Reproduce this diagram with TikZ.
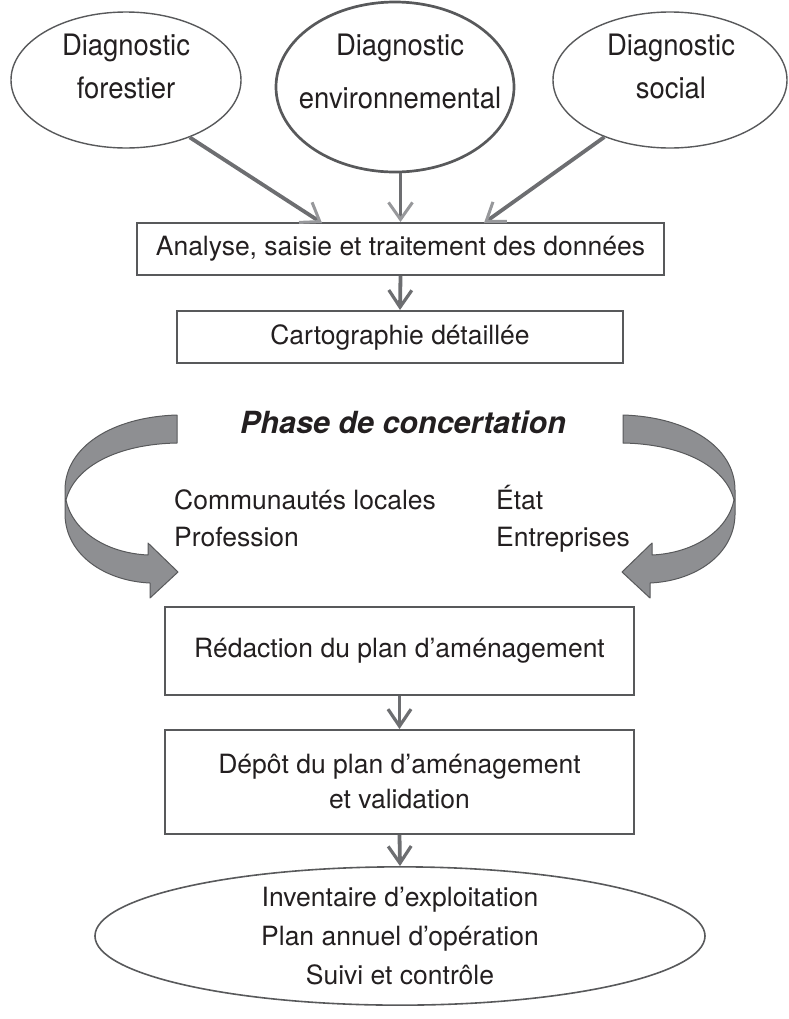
\documentclass[tikz,border=0pt]{standalone}
\usepackage{fontspec}
\setmainfont{TeX Gyre Heros}
\newfontfamily\condfont[FakeStretch=0.93]{TeX Gyre Heros}
\usetikzlibrary{arrows.meta,shapes.geometric,calc}
\definecolor{linegray}{HTML}{58595B}
\definecolor{shaftgray}{HTML}{6D6E71}
\definecolor{headgray}{HTML}{97989B}
\definecolor{bandfill}{HTML}{8E8F92}
\definecolor{txt}{HTML}{231F20}
\begin{document}
\begin{tikzpicture}[x=1bp,y=-1bp,
  every node/.style={text=txt, inner sep=0pt},
  bodyfont/.style={font=\fontsize{26.5bp}{35bp}\selectfont},
  diagfont/.style={font=\condfont\fontsize{29.5bp}{35bp}\selectfont},
  diagell/.style={ellipse, draw=linegray, line width=1.4bp},
  stepbox/.style={rectangle, draw=linegray, line width=2bp, bodyfont, align=center},
  inarrow/.style={draw=shaftgray, line width=3.8bp,
     -{Straight Barb[length=17bp, width=24bp, line width=3bp, color=headgray]}},
  flowarrow/.style={draw=shaftgray, line width=3.8bp,
     -{Straight Barb[length=17bp, width=23bp, line width=3.2bp]}},
  band/.style={fill=bandfill, draw=linegray, line width=1bp, line join=round}
]
\useasboundingbox (0,0) rectangle (789,1019);

% top ellipses
\node[diagell, minimum width=230bp, minimum height=136bp] (e1) at (126,80) {};
\node[diagell, line width=2.7bp, minimum width=238bp, minimum height=170bp] (e2) at (395,87) {};
\node[diagell, minimum width=234bp, minimum height=136bp] (e3) at (670,80) {};

\node[diagfont, anchor=base] (e1a) at (126,55) {Diagnostic};
\node[diagfont, anchor=base] (e1b) at (126,98) {forestier};
\node[diagfont, anchor=base] (e2a) at (400,55) {Diagnostic};
\node[diagfont, anchor=base] (e2b) at (400,108) {environnemental};
\node[diagfont, anchor=base] (e3a) at (671,55) {Diagnostic};
\node[diagfont, anchor=base] (e3b) at (671,98) {social};

% boxes
\node[stepbox, minimum width=527bp, minimum height=52bp] (b1) at (400.5,249)
  {Analyse, saisie et traitement des données};
\node[stepbox, minimum width=446bp, minimum height=52bp] (b2) at (400,337)
  {Cartographie détaillée};

\coordinate (t1) at (322,223);
\coordinate (t3) at (484,223);
\draw[inarrow] (e1.-42) -- (t1);
\draw[inarrow] (e2.south -| b1.north) -- (b1.north);
\draw[inarrow] (e3.-139) -- (t3);
\draw[flowarrow] (b1.south) -- (b2.north);

% phase de concertation
\node[font=\bfseries\itshape\fontsize{30.5bp}{35bp}\selectfont, anchor=base] (ph) at (403,433)
  {Phase de concertation};

% curved arrows
\path[band] (177,415) .. controls (112,417) and (65,447) .. (65,490)
  -- (65,515) .. controls (66,555) and (105,581) .. (150,583)
  -- (150,598) -- (178,572) -- (148,543) -- (148,555)
  .. controls (105,553) and (72,530) .. (66,500)
  .. controls (75,465) and (120,444) .. (177,443) -- cycle;
\path[band] (623,415) .. controls (688,417) and (735,447) .. (735,490)
  -- (735,515) .. controls (734,555) and (695,581) .. (650,583)
  -- (650,598) -- (622,572) -- (652,543) -- (652,555)
  .. controls (695,553) and (728,530) .. (734,500)
  .. controls (725,465) and (680,444) .. (623,443) -- cycle;

\node[bodyfont, anchor=base west] (c1) at (174,509) {Communautés locales};
\node[bodyfont, anchor=base west] (c2) at (174,546) {Profession};
\node[bodyfont, anchor=base west] (s1) at (496,509) {État};
\node[bodyfont, anchor=base west] (s2) at (496,546) {Entreprises};

\node[stepbox, minimum width=469bp, minimum height=88bp] (b3) at (399.5,651)
  {Rédaction du plan d’aménagement};
\node[stepbox, minimum width=469bp, minimum height=104bp] (b4) at (399.5,782)
  {Dépôt du plan d’aménagement\\et validation};
\node[diagell, line width=1.6bp, minimum width=610bp, minimum height=128bp,
  font=\fontsize{26.5bp}{39bp}\selectfont, align=center] (e4) at (400,936)
  {Inventaire d’exploitation\\Plan annuel d’opération\\Suivi et contrôle};

\draw[flowarrow] (b3.south) -- (b4.north);
\draw[flowarrow] (b4.south) -- (e4.north);
\end{tikzpicture}
\end{document}
